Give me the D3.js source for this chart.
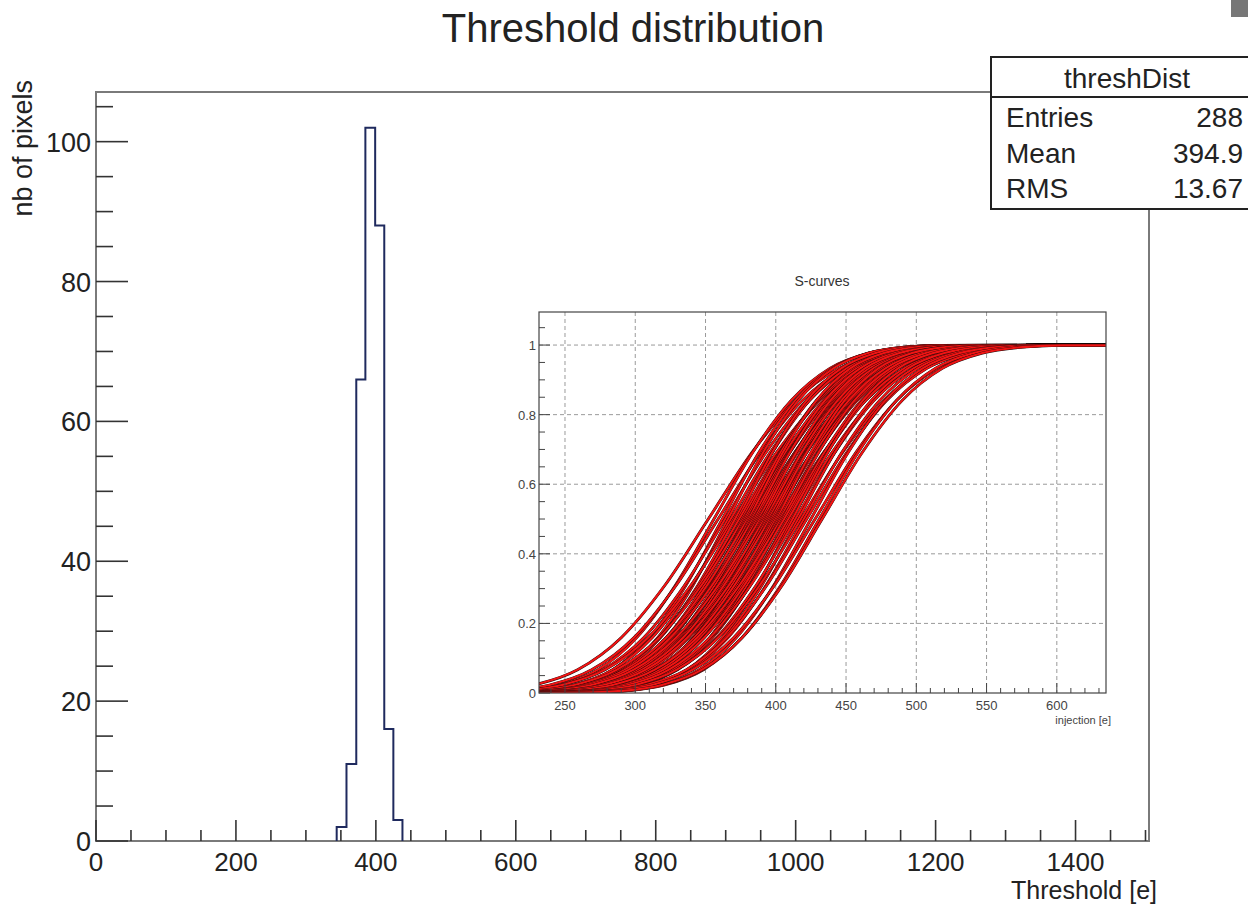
<!DOCTYPE html>
<html>
<head>
<meta charset="utf-8">
<script src="https://cdn.jsdelivr.net/npm/d3@7"></script>
<style>
  body { margin: 0; background: #fff; }
  svg { display: block; font-family: "Liberation Sans", Arial, sans-serif; }
</style>
</head>
<body>
<div id="chart"></div>
<script>
// histogram of fitted thresholds (bin edges in electrons, counts per bin)
var binEdges = [344, 358, 372, 385, 399, 412, 425, 438];
var binCounts = [2, 11, 66, 102, 88, 16, 3];

var xTickLabels = [0, 200, 400, 600, 800, 1000, 1200, 1400];
var yTickLabels = [0, 20, 40, 60, 80, 100];

var statsLabels = ["Entries", "Mean", "RMS"];
var statsValues = ["288", "394.9", "13.67"];

// s-curves of the inset: 50% point and width (noise) of each pixel curve
var curveThresholds = [352, 356, 359, 362, 364, 366, 368, 370, 371, 373,
    374, 376, 377, 378, 379, 380, 381, 382, 383, 384,
    385, 386, 387, 388, 389, 390, 391, 392, 393, 394,
    395, 396, 397, 398, 399, 400, 401, 402, 403, 404,
    405, 406, 408, 409, 411, 412, 414, 416, 418, 420,
    422, 425, 428, 431, 433];
var curveNoises = [62, 55, 60, 52, 58, 50, 56, 61, 53, 49,
    57, 54, 60, 51, 55, 58, 48, 56, 53, 59,
    50, 55, 57, 52, 60, 49, 54, 58, 51, 56,
    53, 59, 50, 55, 57, 52, 48, 56, 54, 60,
    51, 57, 53, 55, 58, 50, 56, 52, 59, 54,
    57, 53, 58, 55, 57];
// tabulated s-curve shape: offset in units of noise -> occupancy
var shapeOffsets = [-6, -3, -2.5, -2, -1.5, -1, -0.5, 0, 0.5, 1, 1.5, 2, 2.5, 3, 6];
var shapeValues = [0, 0.001, 0.006, 0.023, 0.067, 0.159, 0.309, 0.5, 0.691, 0.841, 0.933, 0.977, 0.994, 0.999, 1];

var insetXTicks = [250, 300, 350, 400, 450, 500, 550, 600];
var insetYTicks = [0, 0.2, 0.4, 0.6, 0.8, 1];

var W = 1248, H = 906;
var svg = d3.select("#chart").append("svg").attr("width", W).attr("height", H);

// ---- main frame ----
var frame = {left: 96, right: 1149, top: 92, bottom: 841};
var x = d3.scaleLinear().domain([0, 1505]).range([frame.left, frame.right]);
var y = d3.scaleLinear().domain([0, 107.1]).range([frame.bottom, frame.top]);

svg.append("text")
    .attr("x", 633).attr("y", 42)
    .attr("text-anchor", "middle")
    .attr("font-size", 40)
    .attr("fill", "#222")
    .text("Threshold distribution");

svg.append("rect")
    .attr("x", frame.left).attr("y", frame.top)
    .attr("width", frame.right - frame.left).attr("height", frame.bottom - frame.top)
    .attr("fill", "none").attr("stroke", "#7a7a7a").attr("stroke-width", 2);

// x ticks (inside, pointing up)
var xt = svg.append("g");
xt.selectAll("line").data(d3.range(0, 1501, 50)).enter().append("line")
    .attr("x1", function(d){ return x(d); }).attr("x2", function(d){ return x(d); })
    .attr("y1", frame.bottom)
    .attr("y2", function(d){ return frame.bottom - (d % 200 === 0 ? 21 : 11); })
    .attr("stroke", "#333").attr("stroke-width", 1.6);
xt.selectAll("text").data(xTickLabels).enter().append("text")
    .attr("x", function(d){ return x(d); }).attr("y", 871)
    .attr("text-anchor", "middle").attr("font-size", 26).attr("fill", "#222")
    .text(function(d){ return d; });

// y ticks (inside, pointing right)
var yt = svg.append("g");
yt.selectAll("line").data(d3.range(0, 106, 5)).enter().append("line")
    .attr("y1", function(d){ return y(d); }).attr("y2", function(d){ return y(d); })
    .attr("x1", frame.left)
    .attr("x2", function(d){ return frame.left + (d % 20 === 0 ? 32 : 17); })
    .attr("stroke", "#333").attr("stroke-width", 1.6);
yt.selectAll("text").data(yTickLabels).enter().append("text")
    .attr("x", 91).attr("y", function(d){ return y(d) + 10; })
    .attr("text-anchor", "end").attr("font-size", 27).attr("fill", "#222")
    .text(function(d){ return d; });

svg.append("text")
    .attr("x", 1157).attr("y", 899)
    .attr("text-anchor", "end").attr("font-size", 25).attr("fill", "#222")
    .text("Threshold [e]");

svg.append("text")
    .attr("transform", "translate(32,80) rotate(-90)")
    .attr("text-anchor", "end").attr("font-size", 27).attr("fill", "#222")
    .text("nb of pixels");

// histogram outline
var histPts = [[binEdges[0], 0]];
binCounts.forEach(function(c, i){ histPts.push([binEdges[i], c]); });
histPts.push([binEdges[binEdges.length - 1], 0]);
var histLine = d3.line()
    .x(function(d){ return x(d[0]); })
    .y(function(d){ return y(d[1]); })
    .curve(d3.curveStepAfter);
svg.append("path")
    .attr("d", histLine(histPts))
    .attr("fill", "none").attr("stroke", "#1f2a5e").attr("stroke-width", 2);

// ---- inset with s-curves ----
var inset = {left: 539, right: 1106, top: 312, bottom: 693};
svg.append("rect")
    .attr("x", 513).attr("y", 262).attr("width", 608).attr("height", 482)
    .attr("fill", "#fff");

var ix = d3.scaleLinear().domain([231.5, 635]).range([inset.left, inset.right]);
var iy = d3.scaleLinear().domain([0, 1.095]).range([inset.bottom, inset.top]);

svg.append("text")
    .attr("x", 822).attr("y", 286)
    .attr("text-anchor", "middle").attr("font-size", 14).attr("fill", "#333")
    .text("S-curves");

var grid = svg.append("g").attr("stroke", "#9a9a9a").attr("stroke-width", 1).attr("stroke-dasharray", "4,3");
grid.selectAll(".gx").data(insetXTicks).enter().append("line")
    .attr("x1", function(d){ return ix(d); }).attr("x2", function(d){ return ix(d); })
    .attr("y1", inset.top).attr("y2", inset.bottom);
grid.selectAll(".gy").data(insetYTicks.slice(1)).enter().append("line")
    .attr("y1", function(d){ return iy(d); }).attr("y2", function(d){ return iy(d); })
    .attr("x1", inset.left).attr("x2", inset.right);

svg.append("clipPath").attr("id", "insetClip")
    .append("rect")
    .attr("x", inset.left).attr("y", inset.top)
    .attr("width", inset.right - inset.left).attr("height", inset.bottom - inset.top);

var sLine = d3.line()
    .x(function(d){ return ix(d[0]); })
    .y(function(d){ return iy(d[1]); })
    .curve(d3.curveMonotoneX);

var curves = svg.append("g").attr("clip-path", "url(#insetClip)");
curveThresholds.forEach(function(thr, i){
    var pts = shapeOffsets.map(function(z, k){ return [thr + z * curveNoises[i], shapeValues[k]]; });
    curves.append("path").attr("d", sLine(pts))
        .attr("fill", "none").attr("stroke", "#1a0a0a").attr("stroke-width", 2.8);
    curves.append("path").attr("d", sLine(pts))
        .attr("fill", "none").attr("stroke", "#f01414").attr("stroke-width", 2.1);
});

svg.append("rect")
    .attr("x", inset.left).attr("y", inset.top)
    .attr("width", inset.right - inset.left).attr("height", inset.bottom - inset.top)
    .attr("fill", "none").attr("stroke", "#444").attr("stroke-width", 1.2);

var it = svg.append("g").attr("stroke", "#444").attr("stroke-width", 1);
it.selectAll(".tx").data(d3.range(240, 631, 10)).enter().append("line")
    .attr("x1", function(d){ return ix(d); }).attr("x2", function(d){ return ix(d); })
    .attr("y1", inset.bottom)
    .attr("y2", function(d){ return inset.bottom - (d % 50 === 0 ? 10 : 5); });
it.selectAll(".ty").data(d3.range(0, 22).map(function(k){ return k * 0.05; })).enter().append("line")
    .attr("y1", function(d){ return iy(d); }).attr("y2", function(d){ return iy(d); })
    .attr("x1", inset.left)
    .attr("x2", function(d){ return inset.left + (Math.round(d * 100) % 20 === 0 ? 11 : 6); });

svg.append("g").selectAll("text").data(insetXTicks).enter().append("text")
    .attr("x", function(d){ return ix(d); }).attr("y", 710)
    .attr("text-anchor", "middle").attr("font-size", 13).attr("fill", "#444")
    .text(function(d){ return d; });
svg.append("g").selectAll("text").data(insetYTicks).enter().append("text")
    .attr("x", inset.left - 3).attr("y", function(d){ return iy(d) + 5; })
    .attr("text-anchor", "end").attr("font-size", 13).attr("fill", "#444")
    .text(function(d){ return d; });
svg.append("text")
    .attr("x", 1111).attr("y", 724)
    .attr("text-anchor", "end").attr("font-size", 11).attr("fill", "#444")
    .text("injection [e]");

// ---- stats box ----
var box = svg.append("g");
box.append("rect")
    .attr("x", 991).attr("y", 57).attr("width", 270).attr("height", 152)
    .attr("fill", "#fff").attr("stroke", "#222").attr("stroke-width", 2);
box.append("line")
    .attr("x1", 991).attr("x2", 1260).attr("y1", 97).attr("y2", 97)
    .attr("stroke", "#222").attr("stroke-width", 2);
box.append("text")
    .attr("x", 1127).attr("y", 88).attr("text-anchor", "middle")
    .attr("font-size", 28).attr("fill", "#222").text("threshDist");
statsLabels.forEach(function(l, i){
    box.append("text").attr("x", 1006).attr("y", 127 + i * 35.5)
        .attr("font-size", 28).attr("fill", "#222").text(l);
    box.append("text").attr("x", 1243).attr("y", 127 + i * 35.5)
        .attr("text-anchor", "end").attr("font-size", 28).attr("fill", "#222").text(statsValues[i]);
});

// little grey corner mark in the screenshot
svg.append("rect").attr("x", 1231).attr("y", 0).attr("width", 17).attr("height", 17).attr("fill", "#777");
</script>
</body>
</html>
